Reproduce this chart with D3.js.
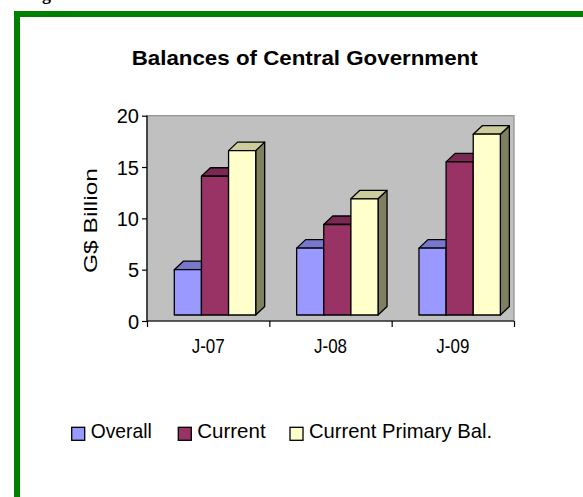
<!DOCTYPE html>
<html>
<head>
<meta charset="utf-8">
<script src="https://cdn.jsdelivr.net/npm/d3@7/dist/d3.min.js"></script>
<style>
  body { margin: 0; background: #fff; }
  text { font-family: "Liberation Sans", Arial, sans-serif; fill: #000; }
</style>
</head>
<body>
<div id="chart"></div>
<script>
// chart data
const categories = ['J-07', 'J-08', 'J-09'];
const seriesNames = ['Overall', 'Current', 'Current Primary Bal.'];
const overall = [5.0, 7.1, 7.1];
const current = [14.1, 9.4, 15.5];
const primaryBal = [16.6, 11.9, 18.2];
const yTicks = [0, 5, 10, 15, 20];

const seriesValues = [overall, current, primaryBal];
const colors = [
  { front: '#9999ff', top: '#7777cc', side: '#666699' },
  { front: '#993366', top: '#7a2952', side: '#662244' },
  { front: '#ffffcc', top: '#cccc9c', side: '#808060' }
];

const W = 583, H = 497;
const plot = { left: 147, right: 514, top: 115.7, bottom: 321 };
const depth = { dx: 9, dy: -8.5 };
const floorGap = 6;

const svg = d3.select('#chart').append('svg')
  .attr('width', W)
  .attr('height', H);

// page frame (caption above the box is cut off in the original)
svg.append('text')
  .attr('x', 26).attr('y', 0)
  .style('font-family', '"Liberation Serif", serif')
  .style('font-weight', 'bold')
  .style('font-size', '18px')
  .text('Fig');
svg.append('rect').attr('x', 14).attr('y', 11).attr('width', 6).attr('height', H - 11).attr('fill', '#008000');
svg.append('rect').attr('x', 14).attr('y', 11).attr('width', W - 14).attr('height', 6).attr('fill', '#008000');

// title
svg.append('text')
  .attr('x', 131.7).attr('y', 65)
  .attr('textLength', 346).attr('lengthAdjust', 'spacingAndGlyphs')
  .style('font-size', '21px').style('font-weight', 'bold')
  .text('Balances of Central Government');

const x0 = d3.scaleBand().domain(categories).range([plot.left, plot.right]);
const x1 = d3.scaleBand().domain(seriesNames).range([0, 81.4]);
const y = d3.scaleLinear().domain([0, 20]).range([plot.bottom, plot.top]);

// back wall
svg.append('rect')
  .attr('x', plot.left).attr('y', plot.top)
  .attr('width', plot.right - plot.left).attr('height', plot.bottom - plot.top)
  .attr('fill', '#c0c0c0').attr('stroke', '#8c8c8c').attr('stroke-width', 1.2);

// y axis
const yAxis = svg.append('g')
  .attr('transform', 'translate(' + plot.left + ',0)')
  .call(d3.axisLeft(y).tickValues(yTicks).tickSize(5).tickPadding(3));
yAxis.selectAll('path,line').attr('stroke', '#000').attr('stroke-width', 1.2);
yAxis.select('.domain').attr('d', 'M0,' + plot.top + 'V' + plot.bottom);
yAxis.selectAll('text')
  .style('font-family', '"Liberation Sans", Arial, sans-serif')
  .style('font-size', '20px').attr('dy', '0.35em');

svg.append('text')
  .attr('transform', 'translate(97.3,220.5) rotate(-90)')
  .attr('text-anchor', 'middle')
  .attr('textLength', 105).attr('lengthAdjust', 'spacingAndGlyphs')
  .style('font-size', '17.5px')
  .text('G$ Billion');

// x axis: ticks on band edges, labels in the middle
const edge = d3.scaleLinear().domain([0, categories.length]).range([plot.left, plot.right]);
const xTicks = svg.append('g')
  .attr('transform', 'translate(0,' + plot.bottom + ')')
  .call(d3.axisBottom(edge).tickValues(d3.range(categories.length + 1)).tickSize(6).tickFormat(''));
xTicks.selectAll('path,line').attr('stroke', '#000').attr('stroke-width', 1.2);
xTicks.select('.domain').attr('d', 'M' + plot.left + ',0H' + plot.right);

svg.append('g').selectAll('text')
  .data(categories)
  .join('text')
  .attr('x', d => x0(d) + x0.bandwidth() / 2)
  .attr('y', 353.3)
  .attr('text-anchor', 'middle')
  .attr('textLength', 33).attr('lengthAdjust', 'spacingAndGlyphs')
  .style('font-size', '21px')
  .text(d => d);

// 3d bars
const bars = [];
seriesNames.forEach((s, si) => {
  categories.forEach((c, ci) => {
    bars.push({ s: s, si: si, c: c, v: seriesValues[si][ci] });
  });
});
bars.sort((a, b) => a.c === b.c ? a.si - b.si : categories.indexOf(a.c) - categories.indexOf(b.c));

const bg = svg.append('g').attr('stroke', '#000').attr('stroke-width', 1.3).attr('stroke-linejoin', 'round');
bars.forEach(d => {
  const xl = x0(d.c) + 27.3 + x1(d.s);
  const xr = xl + x1.bandwidth();
  const yt = y(d.v);
  const yb = y(0) - floorGap;
  const g = bg.append('g');
  g.append('path')
    .attr('d', 'M' + xr + ',' + yb + 'L' + (xr + depth.dx) + ',' + (yb + depth.dy) +
      'L' + (xr + depth.dx) + ',' + (yt + depth.dy) + 'L' + xr + ',' + yt + 'Z')
    .attr('fill', colors[d.si].side);
  g.append('path')
    .attr('d', 'M' + xl + ',' + yt + 'L' + (xl + depth.dx) + ',' + (yt + depth.dy) +
      'L' + (xr + depth.dx) + ',' + (yt + depth.dy) + 'L' + xr + ',' + yt + 'Z')
    .attr('fill', colors[d.si].top);
  g.append('rect')
    .attr('x', xl).attr('y', yt)
    .attr('width', xr - xl).attr('height', yb - yt)
    .attr('fill', colors[d.si].front);
});

// legend
const legendX = [71.7, 178.3, 290];
const legendW = [61, 68.3, 183];
const lg = svg.append('g').selectAll('g')
  .data(seriesNames)
  .join('g')
  .attr('transform', (d, i) => 'translate(' + legendX[i] + ',427.3)');
lg.append('rect')
  .attr('width', 13).attr('height', 13)
  .attr('fill', (d, i) => colors[i].front)
  .attr('stroke', '#000').attr('stroke-width', 1.3);
lg.append('text')
  .attr('x', 19).attr('y', 10.7)
  .attr('textLength', (d, i) => legendW[i]).attr('lengthAdjust', 'spacingAndGlyphs')
  .style('font-size', '21px')
  .text(d => d);
</script>
</body>
</html>
